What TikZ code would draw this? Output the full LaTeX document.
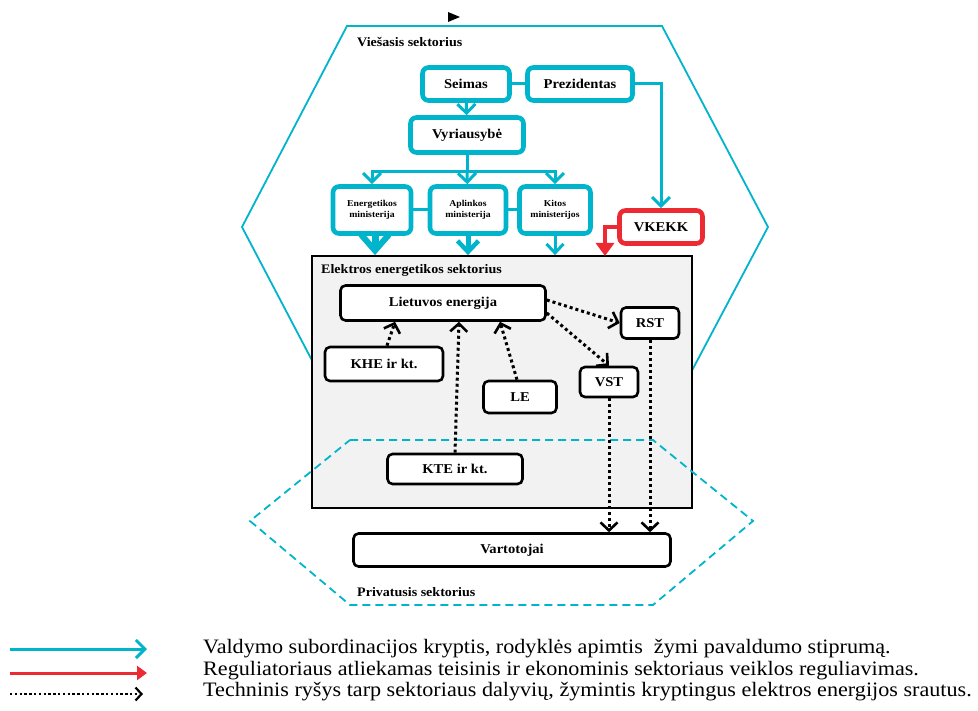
\documentclass[tikz,border=0pt]{standalone}
\usepackage{fontspec}
\setmainfont[FakeStretch=1.08]{Liberation Serif}
\usetikzlibrary{arrows.meta}

\definecolor{vcyan}{RGB}{0,180,204}
\definecolor{vred}{RGB}{237,41,50}
\definecolor{vgray}{RGB}{242,242,242}

\tikzset{
  cyanbox/.style={draw=vcyan, line width=4.6pt, rounded corners=6pt, fill=white,
    font=\fontsize{13.5}{15}\selectfont\bfseries, inner sep=0pt},
  minbox/.style={cyanbox, font=\fontsize{9}{11}\selectfont\bfseries, align=center,
    minimum height=47pt},
  redbox/.style={cyanbox, draw=vred},
  blackbox/.style={draw=black, line width=2.6pt, rounded corners=5pt, fill=white,
    font=\fontsize{13.5}{15}\selectfont\bfseries, inner sep=0pt},
  title/.style={anchor=west, font=\fontsize{13}{15}\selectfont\bfseries, inner sep=0pt},
  cyanline/.style={draw=vcyan, line width=3pt},
  cyanarrow/.style={cyanline, -{Straight Barb[length=9pt,width=18pt,line width=3pt]}},
  redarrow/.style={draw=vred, line width=4pt, -{Triangle[length=13pt,width=18pt]}},
  dotarrow/.style={draw=black, line width=3pt, dash pattern=on 3pt off 3pt,
    -{Straight Barb[length=8pt,width=17pt,line width=2.6pt]}},
  legendtext/.style={anchor=west, font=\fontsize{20.5}{22}\selectfont, inner sep=0pt}
}

\begin{document}
\begin{tikzpicture}[x=1pt, y=-1pt]
    \useasboundingbox (0,0) rectangle (978,711);

    % sectors
    \draw[vcyan, line width=1.8pt] (347,26) -- (662,26) -- (768,227) -- (661,429)
      -- (348,429) -- (242,227) -- cycle;
    \fill (448,12) -- (460,17) -- (448,22) -- cycle;
    \node[draw, line width=1.8pt, fill=vgray, minimum width=380pt, minimum height=252pt,
      inner sep=0pt] at (502,382) (sector) {};
    \draw[vcyan, line width=1.8pt, dash pattern=on 8pt off 5pt] (350,440) -- (653,440)
      -- (753,521) -- (653,605) -- (350,605) -- (250,521) -- cycle;

    \node[title] at (357,42) (vies) {Viešasis sektorius};
    \node[title] at (321,270) (elek) {Elektros energetikos sektorius};
    \node[title] at (357,592) (priv) {Privatusis sektorius};

    % public sector
    \node[cyanbox, minimum width=87pt, minimum height=33pt] at (466,84) (seimas) {Seimas};
    \node[cyanbox, minimum width=105pt, minimum height=33pt] at (580,84) (prez) {Prezidentas};
    \node[cyanbox, minimum width=113pt, minimum height=35pt] at (467,135) (vyr) {Vyriausybė};
    \node[minbox, minimum width=78pt] at (372,210) (energ) {Energetikos\\ministerija};
    \node[minbox, minimum width=76pt] at (468,210) (aplink) {Aplinkos\\ministerija};
    \node[minbox, minimum width=71pt] at (555,210) (kitos) {Kitos\\ministerijos};
    \node[redbox, minimum width=83pt, minimum height=33pt] at (661,227) (vkekk) {VKEKK};

    % electricity sector
    \node[blackbox, minimum width=205pt, minimum height=35pt] at (443,303) (le) {Lietuvos energija};
    \node[blackbox, minimum width=58pt, minimum height=31pt] at (650,323) (rst) {RST};
    \node[blackbox, minimum width=58pt, minimum height=30pt] at (609,382) (vst) {VST};
    \node[blackbox, minimum width=118pt, minimum height=34pt] at (384,364) (khe) {KHE ir kt.};
    \node[blackbox, minimum width=73pt, minimum height=32pt] at (520,397) (lenode) {LE};
    \node[blackbox, minimum width=135pt, minimum height=30pt] at (455,469) (kte) {KTE ir kt.};
    \node[blackbox, minimum width=317pt, minimum height=33pt] at (512,550) (vart) {Vartotojai};

    % subordination
    \coordinate (split) at (467,172);
    \coordinate (regin) at (605,256);
    \draw[cyanline] (seimas) -- (prez);
    \draw[cyanline] (energ) -- (aplink);
    \draw[cyanline] (aplink) -- (kitos);
    \draw[cyanarrow] (seimas) -- (vyr);
    \draw[cyanline] (vyr) -- (split);
    \draw[cyanarrow] (split) -| (energ);
    \draw[cyanarrow] (split) -- (aplink);
    \draw[cyanarrow] (split) -| (kitos);
    \draw[cyanarrow] (prez) -| (vkekk);
    \draw[cyanline, line width=7pt, -{Straight Barb[length=16pt,width=28pt,line width=6pt]}]
      ([xshift=3pt]energ.south) -- ([xshift=3pt]energ.south |- sector.north);
    \draw[cyanline, line width=5pt, -{Straight Barb[length=11pt,width=21pt,line width=4.5pt]}]
      (aplink.south) -- (aplink.south |- sector.north);
    \draw[cyanline, line width=3pt, -{Straight Barb[length=9pt,width=17pt,line width=3pt]}]
      (kitos.south) -- (kitos.south |- sector.north);
    \draw[redarrow] (vkekk.west) -| (regin);

    % energy flows
    \draw[dotarrow] ([yshift=3pt]le.east) -- (rst.west);
    \draw[dotarrow] ([yshift=-10pt]le.east) -- (vst.north);
    \draw[dotarrow] ([xshift=3pt]khe.north) -- ([xshift=-48pt]le.south);
    \draw[dotarrow] (kte.north) -- ([xshift=16pt]le.south);
    \draw[dotarrow] ([xshift=-3pt]lenode.north) -- ([xshift=57pt]le.south);
    \draw[dotarrow] (vst.south) -- (vst.south |- vart.north);
    \draw[dotarrow] (rst.south) -- (rst.south |- vart.north);

    % legend
    \coordinate (l1a) at (10,649); \coordinate (l1b) at (147,649);
    \coordinate (l2a) at (10,673); \coordinate (l2b) at (147,673);
    \coordinate (l3a) at (10,694); \coordinate (l3b) at (143,694);
    \draw[cyanarrow] (l1a) -- (l1b);
    \draw[redarrow, line width=3pt, -{Triangle[length=10pt,width=14pt]}] (l2a) -- (l2b);
    \draw[dotarrow, line width=2.4pt, dash pattern=on 2.4pt off 2.4pt,
      -{Straight Barb[length=6pt,width=13pt,line width=2.2pt]}] (l3a) -- (l3b);
    \node[legendtext] at (203,649) (t1) {Valdymo subordinacijos kryptis, rodyklės apimtis \ žymi pavaldumo stiprumą.};
    \node[legendtext] at (203,671) (t2) {Reguliatoriaus atliekamas teisinis ir ekonominis sektoriaus veiklos reguliavimas.};
    \node[legendtext] at (203,692) (t3) {Techninis ryšys tarp sektoriaus dalyvių, žymintis kryptingus elektros energijos srautus.};
\end{tikzpicture}
\end{document}
